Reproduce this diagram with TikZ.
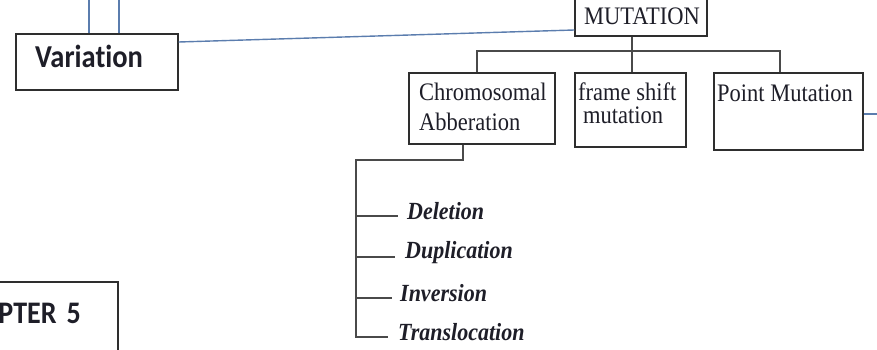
\documentclass[tikz,border=0pt]{standalone}
\usepackage{fontspec}
\setmainfont{Liberation Serif}
\newfontfamily\calib[Ligatures=NoCommon]{Carlito}
\definecolor{linkblue}{HTML}{5B7DAE}
\definecolor{boxline}{HTML}{2E2E2E}
\definecolor{treeline}{HTML}{4A4A4A}
\definecolor{inkdark}{HTML}{1E1E28}
% text in this chart is set slightly taller than wide
\newcommand\tallt[1]{\scalebox{1}[1.12]{#1}}
\tikzset{
  box/.style={draw=boxline, line width=1.4pt, fill=white, inner sep=0pt},
  lbl/.style={inner sep=0pt, text=inkdark, font=\fontsize{22.5}{26}\selectfont},
  item/.style={inner sep=0pt, text=inkdark, font=\fontsize{22}{26}\selectfont\bfseries\itshape},
  sanslbl/.style={inner sep=0pt, text=inkdark, font=\calib\bfseries\fontsize{#1}{#1}\selectfont},
  tree/.style={draw=treeline, line width=1.5pt},
  link/.style={draw=linkblue, line width=1.4pt},
}
\begin{document}
\begin{tikzpicture}[x=1pt, y=-1pt]
\useasboundingbox (0,0) rectangle (877,350);
\clip (0,0) rectangle (877,350);

% ---- boxes ----
\node[box, minimum width=162pt, minimum height=56pt] (var) at (97,62) {};
\node[box, minimum width=132pt, minimum height=46pt] (mut) at (641,13) {};
\node[box, minimum width=146pt, minimum height=71pt] (chr) at (482,108.5) {};
\node[box, minimum width=111pt, minimum height=74pt] (fs)  at (630.5,110) {};
\node[box, minimum width=149pt, minimum height=77pt] (pm)  at (788.5,111.5) {};
\node[box, minimum width=178pt, minimum height=100pt] (chap) at (29,332) {};

% ---- box texts ----
\node[sanslbl=28.5, anchor=base west] (vart) at (35,68) {\tallt{Variation}};
\node[sanslbl=28, anchor=base east] (chapt) at (81,323) {\tallt{CHAPTER\hspace{10pt}5}};
\node[lbl, anchor=base] (mutt) at (642,25) {\tallt{MUTATION}};
\node[lbl, anchor=base west] (chr1) at (419,100) {\tallt{Chromosomal}};
\node[lbl, anchor=base west] (chr2) at (419,130) {\tallt{Abberation}};
\node[lbl, anchor=base west] (fs1) at (578,100) {\tallt{frame shift}};
\node[lbl, anchor=base west] (fs2) at (583,123) {\tallt{mutation}};
\node[lbl, anchor=base west] (pmt) at (717,102) {\tallt{Point Mutation}};

% ---- blue links ----
\coordinate (vt1) at (89,0);
\coordinate (vt2) at (119,0);
\coordinate (pr) at (877,114);
\draw[link] (vt1) -- (vt1 |- var.north);
\draw[link] (vt2) -- (vt2 |- var.north);
\draw[link] (var.east |- 0,42) -- (mut.west |- 0,30);
\draw[link] (pm.east |- pr) -- (pr);

% ---- mutation tree ----
\coordinate (bl) at (477,51);
\coordinate (br) at (780,51);
\coordinate (bm) at (632,51);
\draw[tree] (mut.south -| bm) -- (fs.north -| bm);
\draw[tree] (chr.north -| bl) -- (bl) -- (br) -- (pm.north -| br);

% ---- chromosomal aberration list ----
\coordinate (tj) at (463,160);
\coordinate (tk) at (356,160);
\coordinate (e1) at (398,216);
\coordinate (e2) at (395,257);
\coordinate (e3) at (392,298);
\coordinate (e4) at (388,337);
\draw[tree] (chr.south -| tj) -- (tj) -- (tk) -- (tk |- e4) -- (e4);
\draw[tree] (tk |- e1) -- (e1);
\draw[tree] (tk |- e2) -- (e2);
\draw[tree] (tk |- e3) -- (e3);

\node[item, anchor=base west] (del) at (407,219) {\tallt{Deletion}};
\node[item, anchor=base west] (dup) at (405,258) {\tallt{Duplication}};
\node[item, anchor=base west] (inv) at (400,301) {\tallt{Inversion}};
\node[item, anchor=base west] (tra) at (398,340) {\tallt{Translocation}};
\end{tikzpicture}
\end{document}
